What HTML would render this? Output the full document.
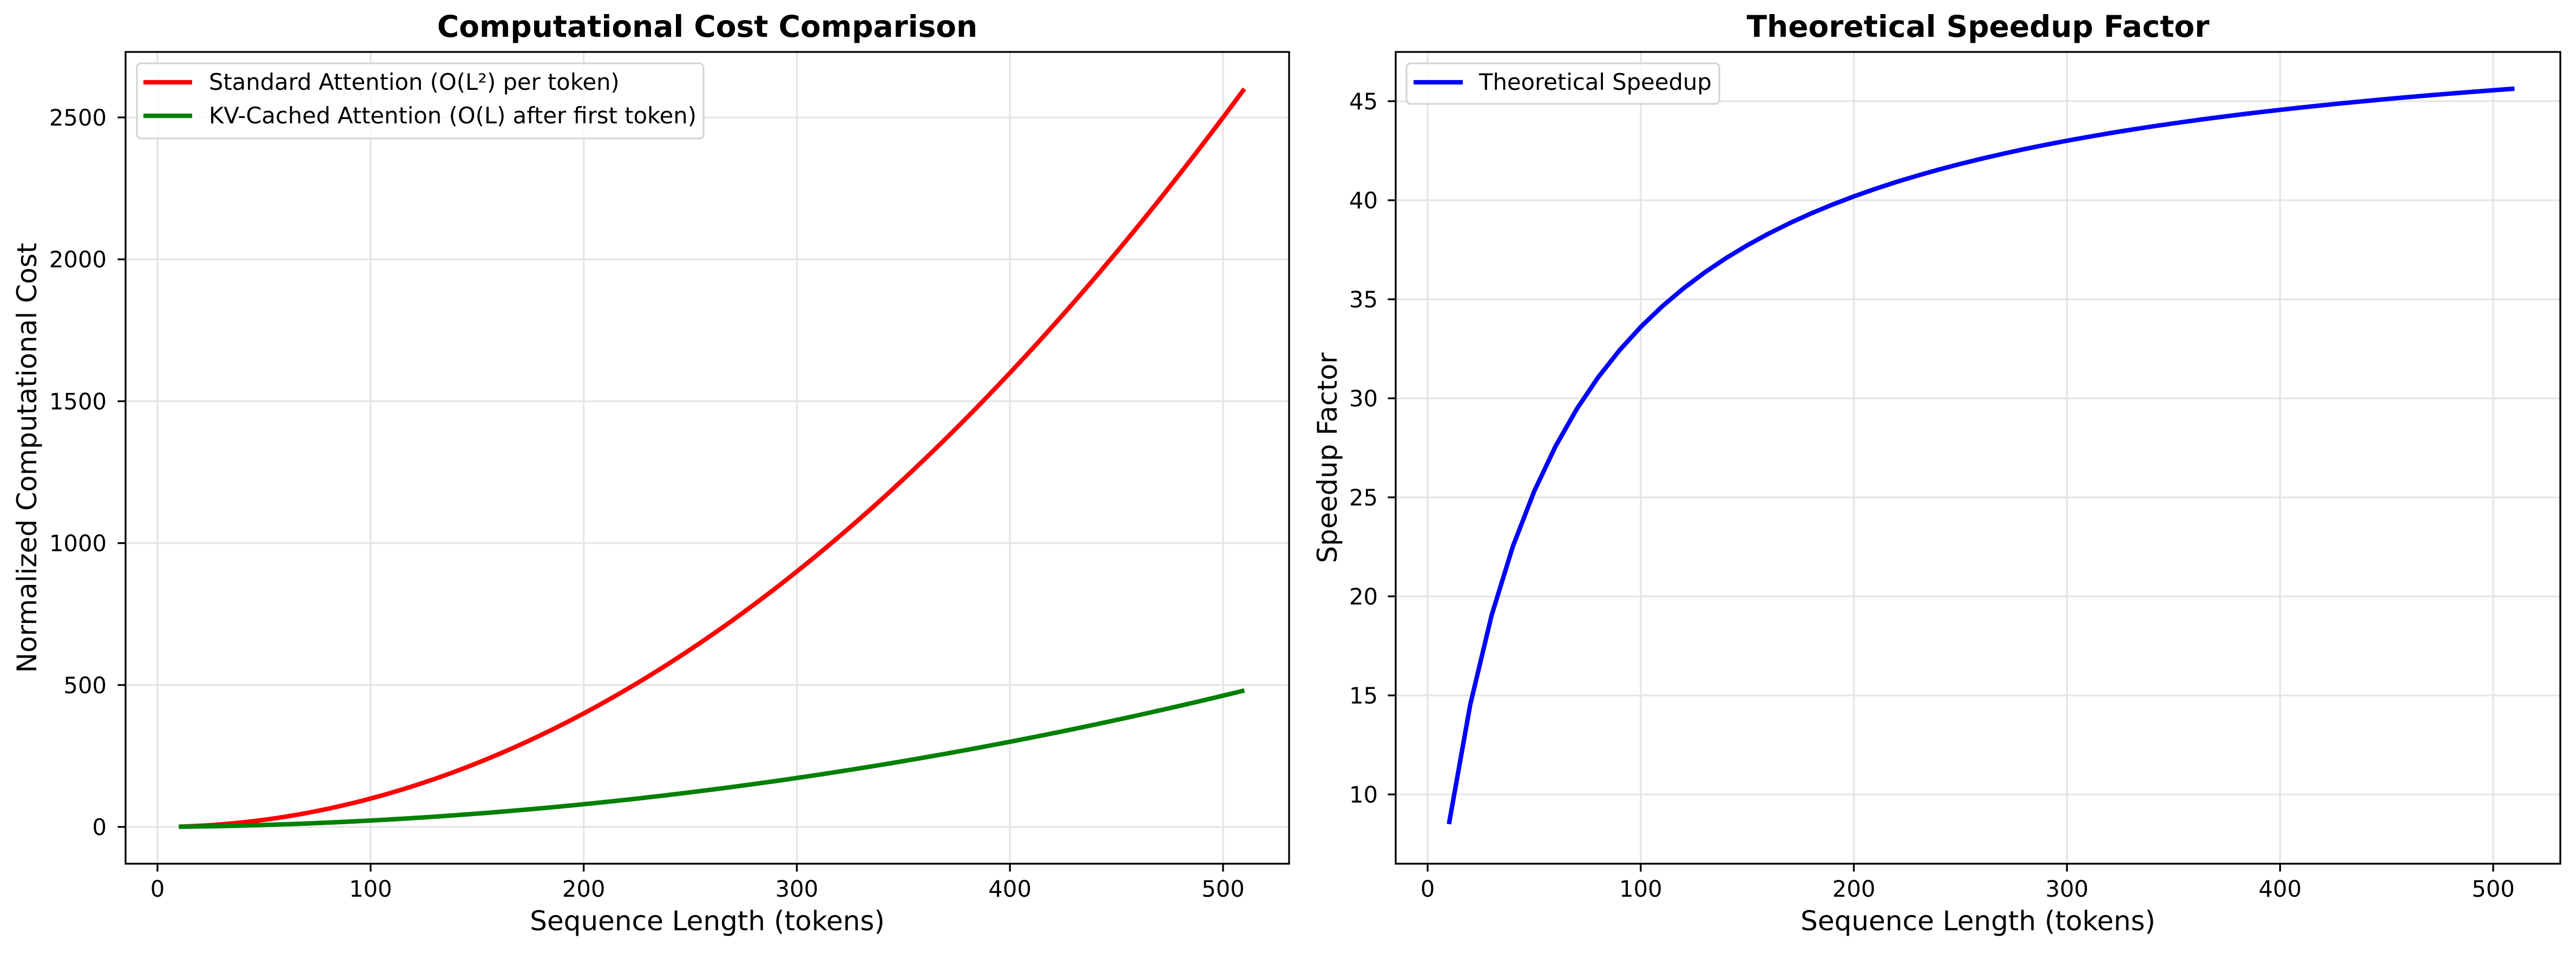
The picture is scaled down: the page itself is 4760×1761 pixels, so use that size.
<!DOCTYPE html>
<html><head><meta charset="utf-8"><style>
html,body{margin:0;padding:0;background:#fff;}
svg{display:block;font-family:"DejaVu Sans","Liberation Sans",sans-serif;}
</style></head><body>
<svg id="s" width="4760" height="1761" viewBox="0 0 4760 1761" xmlns="http://www.w3.org/2000/svg">
<rect width="4760" height="1761" fill="#fff"/>
<g id="g"></g>
</svg>
<script>
var g=document.getElementById('g');var h='';
function ln(x1,y1,x2,y2,c,w){h+='<line x1="'+x1+'" y1="'+y1+'" x2="'+x2+'" y2="'+y2+'" stroke="'+c+'" stroke-width="'+w+'"/>';}
function tx(x,y,t,o){h+='<text x="'+x+'" y="'+y+'" '+(o||'')+'>'+t+'</text>';}
var T=96,B=1596;
var L0=232,R0=2382;
function lx(v){return 291+v*3.938;} function ly(v){return 1528-v*0.5244;}
for(var v=0;v<=500;v+=100){var x=lx(v);ln(x,T,x,B,'#e5e5e5',3.3);ln(x,B,x,B+14.6,'#000',3.3);tx(x,1657,v,'font-size="41.7" text-anchor="middle"');}
for(var v=0;v<=2500;v+=500){var y=ly(v);ln(L0,y,R0,y,'#e5e5e5',3.3);ln(L0-14.6,y,L0,y,'#000',3.3);tx(197,y+15,v,'font-size="41.7" text-anchor="end"');}
var p1='',p2='';
for(var L=10;L<=510;L+=2){p1+=lx(L)+','+ly(L*L/100)+' ';p2+=lx(L)+','+ly(0.00175*L*L+0.05*L)+' ';}
h+='<polyline points="'+p1+'" fill="none" stroke="#ff0000" stroke-width="8.3" stroke-linejoin="round"/>';
h+='<polyline points="'+p2+'" fill="none" stroke="#008000" stroke-width="8.3" stroke-linejoin="round"/>';
h+='<rect x="'+L0+'" y="'+T+'" width="'+(R0-L0)+'" height="'+(B-T)+'" fill="none" stroke="#000" stroke-width="3.3"/>';
h+='<rect x="253" y="117" width="1047" height="139" rx="8" fill="#fff" fill-opacity="0.8" stroke="#d5d5d5" stroke-width="3.3"/>';
ln(265,152,355,152,'#ff0000',8.3);tx(386,166,'Standard Attention (O(L²) per token)','font-size="41.7"');
ln(265,214,355,214,'#008000',8.3);tx(386,228,'KV-Cached Attention (O(L) after first token)','font-size="41.7"');
tx(1307,68,'Computational Cost Comparison','font-size="55" font-weight="bold" text-anchor="middle"');
tx(1307,1719,'Sequence Length (tokens)','font-size="50" text-anchor="middle"');
tx(0,0,'Normalized Computational Cost','font-size="50" text-anchor="middle" transform="translate(67,846) rotate(-90)"');
var L1=2579,R1=4731;
function rx(v){return 2638+v*3.938;} function ry(v){return 187+(45-v)*36.6;}
for(var v=0;v<=500;v+=100){var x=rx(v);ln(x,T,x,B,'#e5e5e5',3.3);ln(x,B,x,B+14.6,'#000',3.3);tx(x,1657,v,'font-size="41.7" text-anchor="middle"');}
for(var v=10;v<=45;v+=5){var y=ry(v);ln(L1,y,R1,y,'#e5e5e5',3.3);ln(L1-14.6,y,L1,y,'#000',3.3);tx(2546,y+15,v,'font-size="41.7" text-anchor="end"');}
var p3='';for(var L=10;L<=510;L+=10){p3+=rx(L)+','+ry(50*L/(L+48.8))+' ';}
h+='<polyline points="'+p3+'" fill="none" stroke="#0000ff" stroke-width="8.3" stroke-linejoin="round"/>';
h+='<rect x="'+L1+'" y="'+T+'" width="'+(R1-L1)+'" height="'+(B-T)+'" fill="none" stroke="#000" stroke-width="3.3"/>';
h+='<rect x="2599" y="117" width="578" height="75" rx="8" fill="#fff" fill-opacity="0.8" stroke="#d5d5d5" stroke-width="3.3"/>';
ln(2612,152,2703,152,'#0000ff',8.3);tx(2733,166,'Theoretical Speedup','font-size="41.7"');
tx(3655,68,'Theoretical Speedup Factor','font-size="55" font-weight="bold" text-anchor="middle"');
tx(3655,1719,'Sequence Length (tokens)','font-size="50" text-anchor="middle"');
tx(0,0,'Speedup Factor','font-size="50" text-anchor="middle" transform="translate(2470,846) rotate(-90)"');
g.innerHTML=h;
</script>
</body></html>
